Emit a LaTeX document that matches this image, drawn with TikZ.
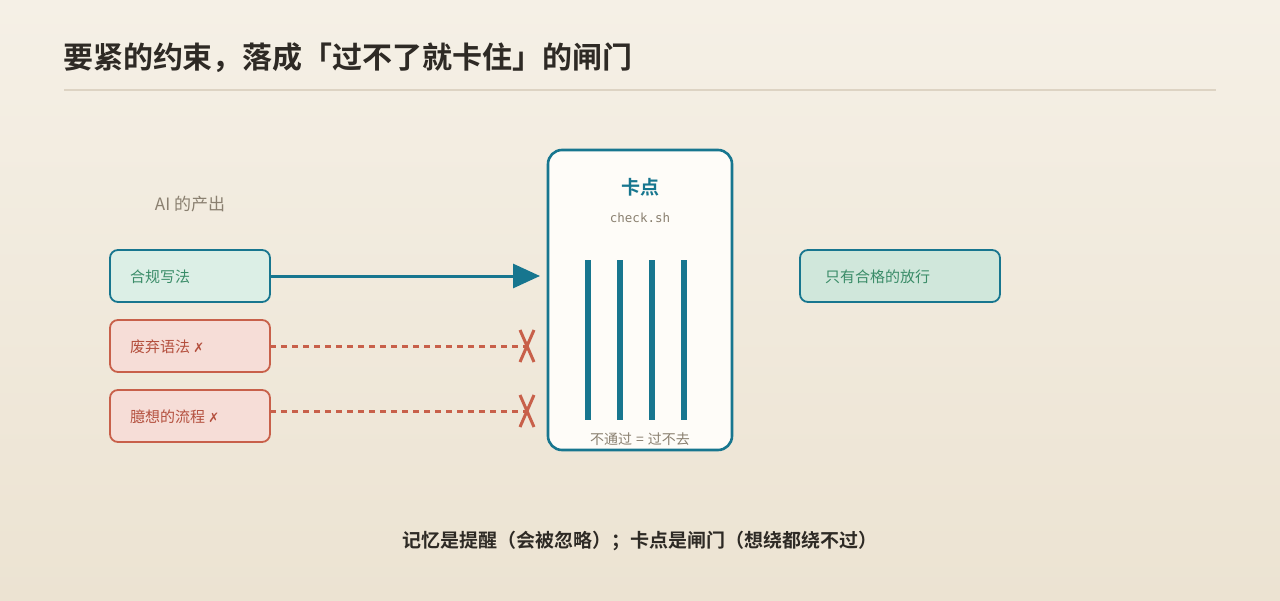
\documentclass[tikz,border=0pt]{standalone}
\usepackage{fontspec}
\setmainfont{Noto Sans CJK SC}
\newfontfamily\cjk{Noto Sans CJK SC}
\newfontfamily\cjkb{Noto Sans CJK SC Bold}
\newfontfamily\symf{DejaVu Sans}
\newfontfamily\monof{DejaVu Sans Mono}
\usetikzlibrary{arrows.meta,shadings}
\definecolor{bgtop}{HTML}{F5F0E6}
\definecolor{bgbot}{HTML}{ECE3D2}
\definecolor{teal}{HTML}{17768F}
\definecolor{redb}{HTML}{C8604A}
\definecolor{greenfill}{HTML}{DCEFE6}
\definecolor{greenfill2}{HTML}{D0E7DB}
\definecolor{redfill}{HTML}{F6DDD7}
\definecolor{greentext}{HTML}{3A8C68}
\definecolor{redtext}{HTML}{B4503E}
\definecolor{graytext}{HTML}{8A8070}
\definecolor{darktext}{HTML}{2E2A25}
\definecolor{rulec}{HTML}{DDD3C3}
\definecolor{gatefill}{HTML}{FEFCF8}
\tikzset{
  every node/.style={inner sep=0pt, outer sep=0pt},
  inbox/.style={draw=teal, line width=1.8pt, rounded corners=8pt, minimum width=160pt, minimum height=52pt},
  okbox/.style={inbox, fill=greenfill},
  badbox/.style={draw=redb, line width=1.8pt, rounded corners=8pt, minimum width=160pt, minimum height=52pt, fill=redfill},
  boxtext/.style={font=\cjk\fontsize{15}{18}\selectfont, anchor=west},
  blocked/.style={draw=redb, line width=3pt, dash pattern=on 6pt off 5pt},
  xmark/.style={draw=redb, line width=3pt},
  bar/.style={fill=teal},
}
\begin{document}
\begin{tikzpicture}[x=1pt,y=-1pt]
\useasboundingbox (0,0) rectangle (1280,600);
\shade[top color=bgtop, bottom color=bgbot] (0,0) rectangle (1280,600);
% title
\node[anchor=west, text=darktext, font=\cjkb\fontsize{30}{35}\selectfont] (title) at (63,58) {要紧的约束，落成「过不了就卡住」的闸门};
\draw[rulec, line width=2pt] (64,90) -- (1216,90);
% left label
\node[text=graytext, font=\cjk\fontsize{17}{20}\selectfont] (lbl) at (190,204) {AI 的产出};
% input boxes
\node[okbox] (ok) at (190,276) {};
\node[boxtext, text=greentext] at (130,277) {合规写法};
\node[badbox] (dep) at (190,346) {};
\node[boxtext, text=redtext] at (130,347) {废弃语法 {\symf\fontsize{13}{15}\selectfont ✗}};
\node[badbox] (hal) at (190,416) {};
\node[boxtext, text=redtext] at (130,417) {臆想的流程 {\symf\fontsize{13}{15}\selectfont ✗}};
% gate
\node[draw=teal, fill=gatefill, line width=2.6pt, rounded corners=14pt, minimum width=184pt, minimum height=300pt] (gate) at (640,300) {};
\node[text=teal, font=\cjkb\fontsize{19}{22}\selectfont] (gt) at (640,187) {卡点};
\node[text=graytext, font=\monof\fontsize{12.5}{15}\selectfont] (gs) at (640,218) {check.sh};
\foreach \x in {588,620,652,684} {
  \fill[bar] (\x-3,260) rectangle (\x+3,420);
}
\node[text=graytext, font=\cjk\fontsize{14}{17}\selectfont] (gf) at (640,439) {不通过\hspace{4pt}=\hspace{4pt}过不去};
% output
\node[inbox, fill=greenfill2, minimum width=200pt] (out) at (900,276) {};
\node[boxtext, text=greentext] at (825,277) {只有合格的放行};
% connectors
\coordinate (okend) at (540,276);
\draw[teal, line width=3pt, -{Triangle[length=27pt, width=24pt]}] (ok.east) -- (okend);
\coordinate (x1) at (527,346);
\coordinate (x2) at (527,411);
\draw[blocked] (dep.east) -- (x1);
\draw[blocked] (hal.east |- x2) -- (x2);
\foreach \c in {x1,x2} {
  \draw[xmark] ([shift={(-7,-16)}]\c) -- ([shift={(7,16)}]\c);
  \draw[xmark] ([shift={(7,-16)}]\c) -- ([shift={(-7,16)}]\c);
}
% bottom
\node[text=darktext, font=\cjkb\fontsize{19}{22}\selectfont] (foot) at (640,541) {记忆是提醒（会被忽略）；卡点是闸门（想绕都绕不过）};
\end{tikzpicture}
\end{document}
